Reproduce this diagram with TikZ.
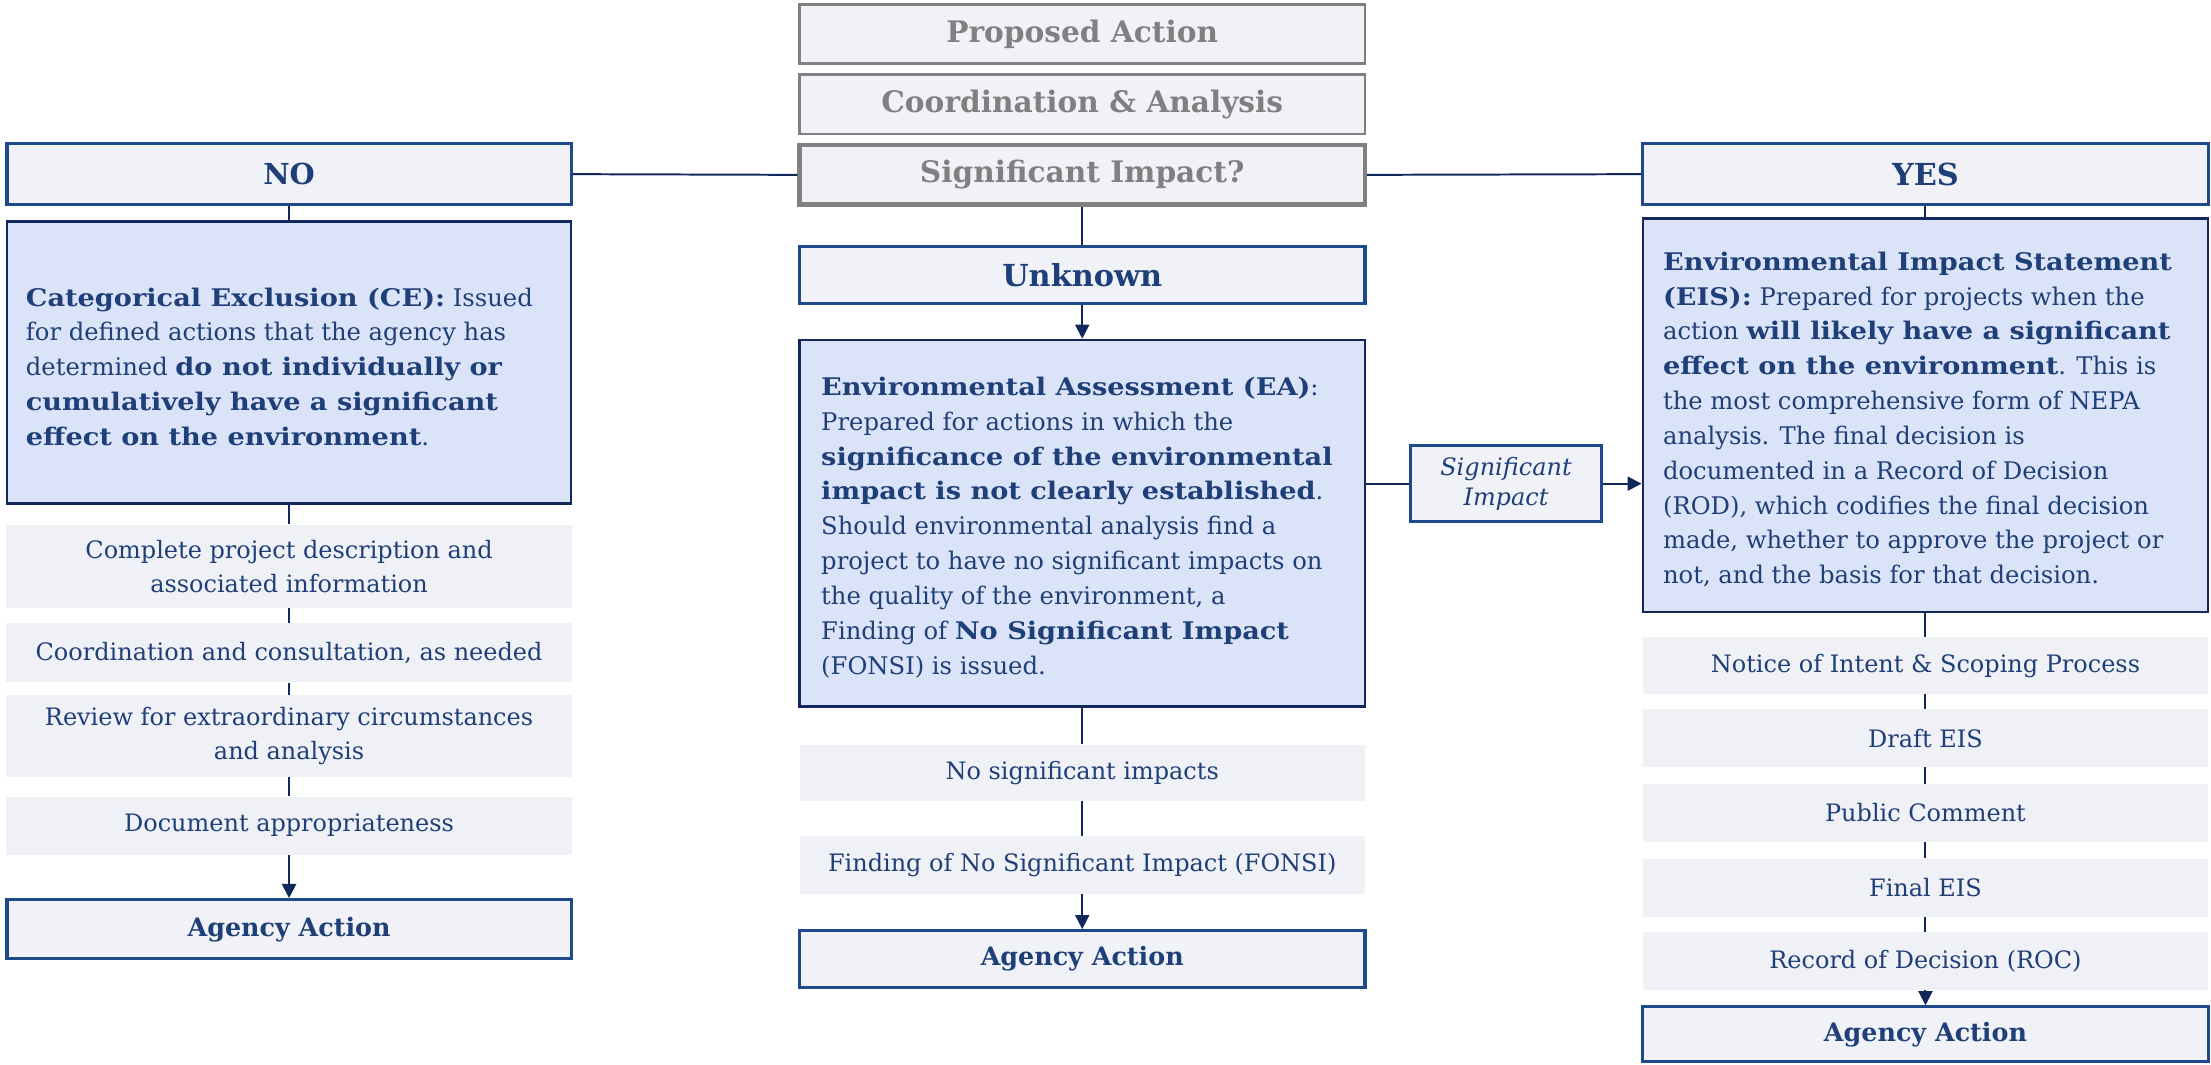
\documentclass[tikz,border=0pt]{standalone}
\usepackage{fontspec}
\setmainfont{DejaVu Serif}
\newfontfamily\wbfont{DejaVu Serif}[FakeStretch=1.12]
\newcommand\wb[1]{{\wbfont\bfseries #1}}
\usetikzlibrary{arrows.meta,calc}
\definecolor{txt}{HTML}{1F3F78}
\definecolor{hdr}{HTML}{1F4A8A}
\definecolor{navy}{HTML}{13285A}
\definecolor{pale}{HTML}{F0F2F8}
\definecolor{bluefill}{HTML}{DAE3F8}
\definecolor{stepfill}{HTML}{F0F1F7}
\definecolor{graytxt}{HTML}{808080}
\tikzset{
  graybox/.style={draw=graytxt, line width=2pt, fill=pale, text=graytxt, font=\fontsize{21}{24}\selectfont\bfseries, inner sep=0pt},
  hdrbox/.style={draw=hdr, line width=2.2pt, fill=pale, text=txt, inner sep=0pt},
  infobox/.style={draw=navy, line width=1.6pt, fill=bluefill, inner sep=0pt},
  infotext/.style={text=txt, inner sep=0pt, align=left, anchor=west, font=\fontsize{17.2}{24.7}\selectfont},
  stepbox/.style={fill=stepfill, text=txt, inner sep=0pt, align=center, font=\fontsize{17}{24}\selectfont},
  conn/.style={draw=navy, line width=1.4pt},
  arr/.style={conn, -{Triangle[width=10pt,length=10pt]}},
}
\begin{document}
\begin{tikzpicture}[x=1pt,y=-1pt]
\useasboundingbox (0,0) rectangle (1568,755);
% center column top
\node[graybox, minimum width=401, minimum height=42] (prop) at (767.5,24) {Proposed Action};
\node[graybox, minimum width=401, minimum height=42] (coord) at (767.5,74) {Coordination \& Analysis};
\node[graybox, line width=3.2pt, minimum width=401, minimum height=42] (sig) at (767.5,124) {Significant Impact?};
% NO / YES
\node[hdrbox, minimum width=400, minimum height=43, font=\fontsize{20.5}{22}\selectfont\bfseries] (no) at (205,123.5) {NO};
\node[hdrbox, minimum width=401, minimum height=43, font=\fontsize{21.5}{22}\selectfont\bfseries] (yes) at (1365.5,123.5) {YES};
% left column
\node[infobox, minimum width=400, minimum height=200] (ce) at (205,257) {};
\node[infotext] (cetext) at ($(ce.west)+(14,3)$)
 {\wb{Categorical Exclusion (CE):} Issued\\
  for defined actions that the agency has\\
  determined \wb{do not individually or}\\
  \wb{cumulatively have a significant}\\
  \wb{effect on the environment}.};
\node[stepbox, minimum width=401, minimum height=59] (l1) at (205,401.5) {Complete project description and\\associated information};
\node[stepbox, minimum width=401, minimum height=42] (l2) at (205,463) {Coordination and consultation, as needed};
\node[stepbox, minimum width=401, minimum height=58] (l3) at (205,522) {Review for extraordinary circumstances\\and analysis};
\node[stepbox, minimum width=401, minimum height=41] (l4) at (205,585.5) {Document appropriateness};
\node[hdrbox, minimum width=400, minimum height=42, font=\fontsize{18}{22}\selectfont\bfseries] (agl) at (205,659) {Agency Action};
% middle column
\node[hdrbox, minimum width=401, minimum height=40, font=\fontsize{21.5}{22}\selectfont\bfseries] (unk) at (767.5,195) {Unknown};
\node[infobox, minimum width=401, minimum height=260] (ea) at (767.5,371) {};
\node[infotext] (eatext) at ($(ea.west)+(16,3)$)
 {\wb{Environmental Assessment (EA)}:\\
  Prepared for actions in which the\\
  \wb{significance of the environmental}\\
  \wb{impact is not clearly established}.\\
  Should environmental analysis find a\\
  project to have no significant impacts on\\
  the quality of the environment, a\\
  Finding of \wb{No Significant Impact}\\
  (FONSI) is issued.};
\node[stepbox, minimum width=401, minimum height=40] (m1) at (767.5,548) {No significant impacts};
\node[stepbox, minimum width=401, minimum height=41] (m2) at (767.5,613.5) {Finding of No Significant Impact (FONSI)};
\node[hdrbox, minimum width=401, minimum height=40, font=\fontsize{18}{22}\selectfont\bfseries] (agm) at (767.5,680) {Agency Action};
% significant impact link box
\node[hdrbox, line width=2.2pt, minimum width=136, minimum height=54, align=center, font=\fontsize{17}{21}\selectfont\itshape] (si) at (1068,343) {Significant\\Impact};
% right column
\node[infobox, minimum width=401, minimum height=279] (eis) at (1365.5,294.5) {};
\node[infotext] (eistext) at ($(eis.west)+(15,3)$)
 {\wb{Environmental Impact Statement}\\
  \wb{(EIS):} Prepared for projects when the\\
  action \wb{will likely have a significant}\\
  \wb{effect on the environment}. This is\\
  the most comprehensive form of NEPA\\
  analysis. The final decision is\\
  documented in a Record of Decision\\
  (ROD), which codifies the final decision\\
  made, whether to approve the project or\\
  not, and the basis for that decision.};
\node[stepbox, minimum width=401, minimum height=40] (r1) at (1365.5,472) {Notice of Intent \& Scoping Process};
\node[stepbox, minimum width=401, minimum height=41] (r2) at (1365.5,523.5) {Draft EIS};
\node[stepbox, minimum width=401, minimum height=41] (r3) at (1365.5,576.5) {Public Comment};
\node[stepbox, minimum width=401, minimum height=41] (r4) at (1365.5,629.5) {Final EIS};
\node[stepbox, minimum width=401, minimum height=41] (r5) at (1365.5,681.5) {Record of Decision (ROC)};
\node[hdrbox, minimum width=401, minimum height=39, font=\fontsize{18}{22}\selectfont\bfseries] (agr) at (1365.5,733.5) {Agency Action};
% connectors
\draw[conn] (no.east) -- (sig.west);
\draw[conn] (sig.east) -- (yes.west);
\draw[conn] (no.south) -- (ce.north);
\draw[conn] (ce.south) -- (l1.north);
\draw[conn] (l1.south) -- (l2.north);
\draw[conn] (l2.south) -- (l3.north);
\draw[conn] (l3.south) -- (l4.north);
\draw[arr] (l4.south) -- (agl.north);
\draw[conn] (sig.south) -- (unk.north);
\draw[arr] (unk.south) -- (ea.north);
\draw[conn] (ea.south) -- (m1.north);
\draw[conn] (m1.south) -- (m2.north);
\draw[arr] (m2.south) -- (agm.north);
\draw[conn] (si.west -| ea.east) -- (si.west);
\draw[arr] (si.east) -- (si.east -| eis.west);
\draw[conn] (yes.south) -- (eis.north);
\draw[conn] (eis.south) -- (r1.north);
\draw[conn] (r1.south) -- (r2.north);
\draw[conn] (r2.south) -- (r3.north);
\draw[conn] (r3.south) -- (r4.north);
\draw[conn] (r4.south) -- (r5.north);
\draw[arr] (r5.south) -- (agr.north);
\end{tikzpicture}
\end{document}
